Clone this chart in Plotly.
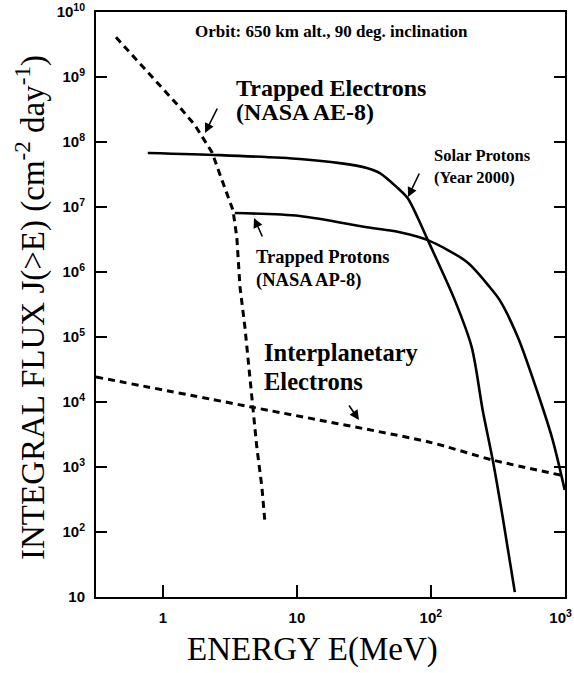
import plotly.graph_objects as go

# ---- data ----
energy_trapped_e = [0.446, 0.80, 1.34, 1.73, 2.32, 2.81, 3.33, 3.56, 3.76, 4.09, 4.46, 5.02, 5.48, 5.77]
flux_trapped_e = [4.1e9, 1.1e9, 3.4e8, 1.83e8, 7.0e7, 2.34e7, 9.0e6, 3.45e6, 5.9e5, 1.43e5, 2.18e4, 2.03e3, 492, 143]

energy_solar_p = [0.77, 2.66, 10.5, 20.9, 33.3, 41.6, 55.7, 67.3, 80, 95, 151, 202, 244, 290, 344, 424]
flux_solar_p = [6.8e7, 6.3e7, 5.5e7, 4.75e7, 4.0e7, 3.34e7, 2.03e7, 1.37e7, 6.8e6, 3.1e6, 3.7e5, 7.0e4, 7.5e3, 1.28e3, 170, 11.9]

energy_trapped_p = [3.44, 10.5, 33.3, 58.7, 95, 186, 275, 327, 446, 618, 813, 1000]
flux_trapped_p = [8.1e6, 7.3e6, 4.9e6, 4.1e6, 3.1e6, 1.43e6, 5.9e5, 3.7e5, 1.0e5, 1.53e4, 2.6e3, 443]

energy_interp_e = [0.316, 4.54, 96.6, 290, 1000]
flux_interp_e = [2.43e4, 8.4e3, 2.43e3, 1.28e3, 728]

x_tickvals = [1, 10, 100, 1000]
x_ticktext = ["1", "10", "10<sup>2</sup>", "10<sup>3</sup>&nbsp;&nbsp;"]
y_tickvals = [10 ** k for k in range(1, 11)]
y_ticktext = ["10"] + ["10<sup>%d</sup>" % k for k in range(2, 11)]

# ---- layout geometry (pixels) ----
W, H = 574, 673
L, R, T, B = 96, 565, 12, 597


def px(x):
    return (x - L) / (R - L)


def py(y):
    return (B - y) / (B - T)


fig = go.Figure()
dash = "7px,5px"
fig.add_trace(go.Scatter(x=energy_trapped_e, y=flux_trapped_e, mode="lines",
                         line=dict(color="black", width=3, dash=dash)))
fig.add_trace(go.Scatter(x=energy_interp_e, y=flux_interp_e, mode="lines",
                         line=dict(color="black", width=3, dash=dash, shape="spline", smoothing=0.6)))
fig.add_trace(go.Scatter(x=energy_solar_p, y=flux_solar_p, mode="lines",
                         line=dict(color="black", width=2.6, shape="spline", smoothing=0.8)))
fig.add_trace(go.Scatter(x=energy_trapped_p, y=flux_trapped_p, mode="lines",
                         line=dict(color="black", width=2.6, shape="spline", smoothing=0.8)))

serif = "Liberation Serif"
ann = []


def text(s, x, y, size, xanchor="left"):
    ann.append(dict(text="<b>%s</b>" % s, x=px(x), y=py(y), xref="paper", yref="paper",
                    xanchor=xanchor, yanchor="middle", showarrow=False,
                    font=dict(family=serif, size=size, color="black")))


text("Orbit: 650 km alt., 90 deg. inclination", 331, 32, 17, "center")
text("Trapped Electrons", 234, 88, 24)
text("(NASA AE-8)", 234, 112, 24)
text("Solar Protons", 432, 155, 16.5)
text("(Year 2000)", 432, 177, 16.5)
text("Trapped Protons", 254, 257, 18.5)
text("(NASA AP-8)", 254, 280, 18.5)
text("Interplanetary", 262, 353, 24.5)
text("Electrons", 262, 381, 24.5)


def arrow(hx, hy, tx, ty):
    ann.append(dict(text="", x=px(hx), y=py(hy), xref="paper", yref="paper",
                    ax=tx - hx, ay=ty - hy, axref="pixel", ayref="pixel",
                    showarrow=True, arrowhead=2, arrowsize=1.2, arrowwidth=1.6,
                    arrowcolor="black", standoff=0, startstandoff=0))


arrow(205, 133, 218, 107)
arrow(408, 197, 420, 172)
arrow(254, 218, 263, 238)
arrow(359, 420, 348, 404)

ann.append(dict(text="INTEGRAL FLUX J(>E) (cm<sup>-2</sup> day<sup>-1</sup>)", x=px(30), y=py(308),
                xref="paper", yref="paper", textangle=-90, showarrow=False,
                xanchor="center", yanchor="middle",
                font=dict(family=serif, size=33, color="black")))
ann.append(dict(text="ENERGY E(MeV)", x=px(312), y=py(650), xref="paper", yref="paper",
                showarrow=False, xanchor="center", yanchor="middle",
                font=dict(family=serif, size=33, color="black")))

tickfont = dict(family="Liberation Sans", size=15, color="black", weight="bold")
fig.update_layout(
    width=W, height=H,
    margin=dict(l=L, r=W - R, t=T, b=H - B, autoexpand=False),
    paper_bgcolor="white", plot_bgcolor="white",
    showlegend=False,
    annotations=ann,
    xaxis=dict(type="log", range=[-0.5, 3.002], tickvals=x_tickvals, ticktext=x_ticktext,
               ticks="inside", ticklen=12, tickwidth=2, tickcolor="black",
               showline=True, linecolor="black", linewidth=2, mirror=True,
               showgrid=False, zeroline=False, tickfont=tickfont, ticklabelstandoff=6,
               ticklabeloverflow="allow", automargin=False),
    yaxis=dict(type="log", range=[1, 10.002], tickvals=y_tickvals, ticktext=y_ticktext,
               ticks="inside", ticklen=11, tickwidth=2, tickcolor="black",
               showline=True, linecolor="black", linewidth=2, mirror="ticks",
               showgrid=False, zeroline=False, tickfont=tickfont, ticklabelstandoff=6,
               ticklabeloverflow="allow", automargin=False),
)

fig.write_html("out.html")
